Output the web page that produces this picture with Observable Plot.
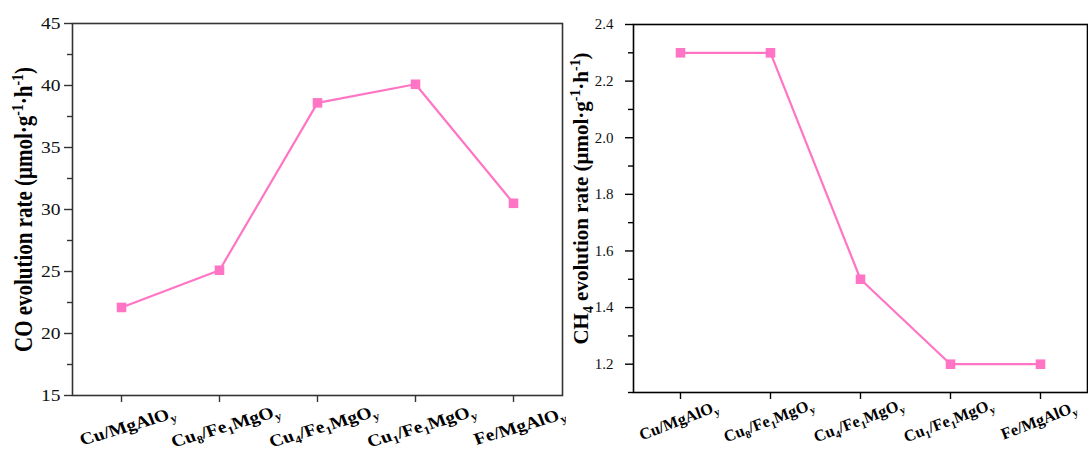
<!DOCTYPE html>
<html>
<head>
<meta charset="utf-8">
<script src="https://cdn.jsdelivr.net/npm/d3@7"></script>
<script src="https://cdn.jsdelivr.net/npm/@observablehq/plot@0.6"></script>
<style>
  html, body { margin: 0; padding: 0; background: #fff; }
  #wrap { display: flex; width: 1088px; height: 455px; overflow: hidden; }
  #wrap svg { flex: none; display: block; overflow: visible; }
</style>
</head>
<body>
<div id="wrap"></div>
<script>
// ---- data ----
const categories = ["Cu/MgAlO_{y}", "Cu_{8}/Fe_{1}MgO_{y}", "Cu_{4}/Fe_{1}MgO_{y}", "Cu_{1}/Fe_{1}MgO_{y}", "Fe/MgAlO_{y}"];
const coRate = [22.1, 25.1, 38.6, 40.1, 30.5];
const ch4Rate = [2.3, 2.3, 1.5, 1.2, 1.2];
const coTicks = [15, 20, 25, 30, 35, 40, 45];
const coMinorTicks = [17.5, 22.5, 27.5, 32.5, 37.5, 42.5];
const ch4Ticks = [1.2, 1.4, 1.6, 1.8, 2.0, 2.2, 2.4];
const ch4MinorTicks = [1.1, 1.3, 1.5, 1.7, 1.9, 2.1, 2.3];
const coTitle = "CO evolution rate (μmol·g^{-1}·h^{-1})";
const ch4Title = "CH_{4} evolution rate (μmol·g^{-1}·h^{-1})";

const pink = "#ff74c4";
const MARKUP = /([_^])\{([^}]*)\}/;

function fontSizeOf(el) {
  for (let n = el; n && n.getAttribute; n = n.parentNode) {
    const v = parseFloat(n.getAttribute("font-size"));
    if (v) return v;
  }
  return 16;
}

function richText(el, src) {
  const fs = fontSizeOf(el);
  const sel = d3.select(el);
  sel.text(null);
  const re = /([_^])\{([^}]*)\}/g;
  let last = 0, m;
  while ((m = re.exec(src))) {
    if (m.index > last) sel.append("tspan").text(src.slice(last, m.index));
    sel.append("tspan")
      .attr("font-size", `${(fs * 0.66).toFixed(2)}px`)
      .attr("baseline-shift", m[1] === "_" ? `${(-0.22 * fs).toFixed(2)}px` : `${(0.4 * fs).toFixed(2)}px`)
      .text(m[2]);
    last = re.lastIndex;
  }
  if (last < src.length) sel.append("tspan").text(src.slice(last));
}

function stretchText(svg, s) {
  if (s === 1) return;
  d3.select(svg).selectAll("text").each(function () {
    const t = this.getAttribute("transform");
    if (t) {
      this.setAttribute("transform", t.includes("rotate(")
        ? t.replace("rotate(", `scale(${s},1) rotate(`)
        : `${t} scale(${s},1)`);
    } else {
      const x = +(this.getAttribute("x") || 0), y = +(this.getAttribute("y") || 0);
      this.removeAttribute("x"); this.removeAttribute("y");
      this.setAttribute("transform", `translate(${x},${y}) scale(${s},1)`);
    }
  });
}

function panel(o) {
  const data = categories.map((c, i) => ({c, v: o.values[i]}));
  const svg = Plot.plot({
    width: o.width,
    height: 455,
    marginLeft: o.marginLeft,
    marginRight: o.marginRight,
    marginTop: o.marginTop,
    marginBottom: o.marginBottom,
    style: {fontFamily: "'Liberation Serif', 'Times New Roman', serif", fontSize: `${o.tickFont}px`, color: "#111", background: "#fff", overflow: "visible"},
    x: {type: "point", domain: categories, padding: 0.5, axis: null},
    y: {domain: o.domain, axis: null},
    marks: [
      Plot.axisY({ticks: o.ticks, tickSize: 8, tickPadding: o.tickPadding, tickFormat: o.format, label: null, stroke: o.frameColor, strokeWidth: 1.4, fontSize: o.tickFont}),
      Plot.axisY({ticks: o.minor, tickSize: 5, tickFormat: () => "", label: null, stroke: o.frameColor, strokeWidth: 1.4}),
      Plot.axisX({tickSize: 7, tickFormat: () => "", label: null, stroke: o.frameColor, strokeWidth: 1.4}),
      Plot.frame({stroke: o.frameColor, strokeWidth: 1.6}),
      Plot.line(data, {x: "c", y: "v", stroke: pink, strokeWidth: 2.2}),
      Plot.dot(data, {x: "c", y: "v", symbol: "square", r: 5.4, fill: pink, stroke: "none"}),
      Plot.text(categories, {x: d => d, text: d => d, frameAnchor: "bottom", dx: o.labelDx, dy: o.labelDy, rotate: o.labelRotate, textAnchor: "middle", fontWeight: "bold", fontSize: o.labelFont, fill: "#000"}),
      Plot.text([o.title], {text: d => d, frameAnchor: "left", dx: o.titleDx, dy: o.titleDy, rotate: -90, textAnchor: "middle", fontWeight: "bold", fontSize: 21, fill: "#000"})
    ]
  });
  d3.select(svg).selectAll("text").each(function () {
    const s = this.textContent;
    if (MARKUP.test(s)) richText(this, s);
  });
  stretchText(svg, o.stretch);
  return svg;
}

const wrap = document.getElementById("wrap");
wrap.appendChild(panel({
  values: coRate, domain: [15, 45], ticks: coTicks, minor: coMinorTicks, format: d3.format("d"),
  title: coTitle, width: 566, marginLeft: 72, marginRight: 4, marginTop: 23, marginBottom: 60,
  tickPadding: 4, tickFont: 17, frameColor: "#333", stretch: 1.15,
  labelDx: 8, labelDy: 36, labelRotate: -19, labelFont: 17,
  titleDx: -48, titleDy: 0
}));
wrap.appendChild(panel({
  values: ch4Rate, domain: [1.1, 2.4], ticks: ch4Ticks, minor: ch4MinorTicks, format: d3.format(".1f"),
  title: ch4Title, width: 522, marginLeft: 67, marginRight: 1, marginTop: 24, marginBottom: 63,
  tickPadding: 12, tickFont: 15, frameColor: "#000", stretch: 1,
  labelDx: 0, labelDy: 33, labelRotate: -21, labelFont: 16.3,
  titleDx: -52, titleDy: -10
}));
</script>
</body>
</html>
